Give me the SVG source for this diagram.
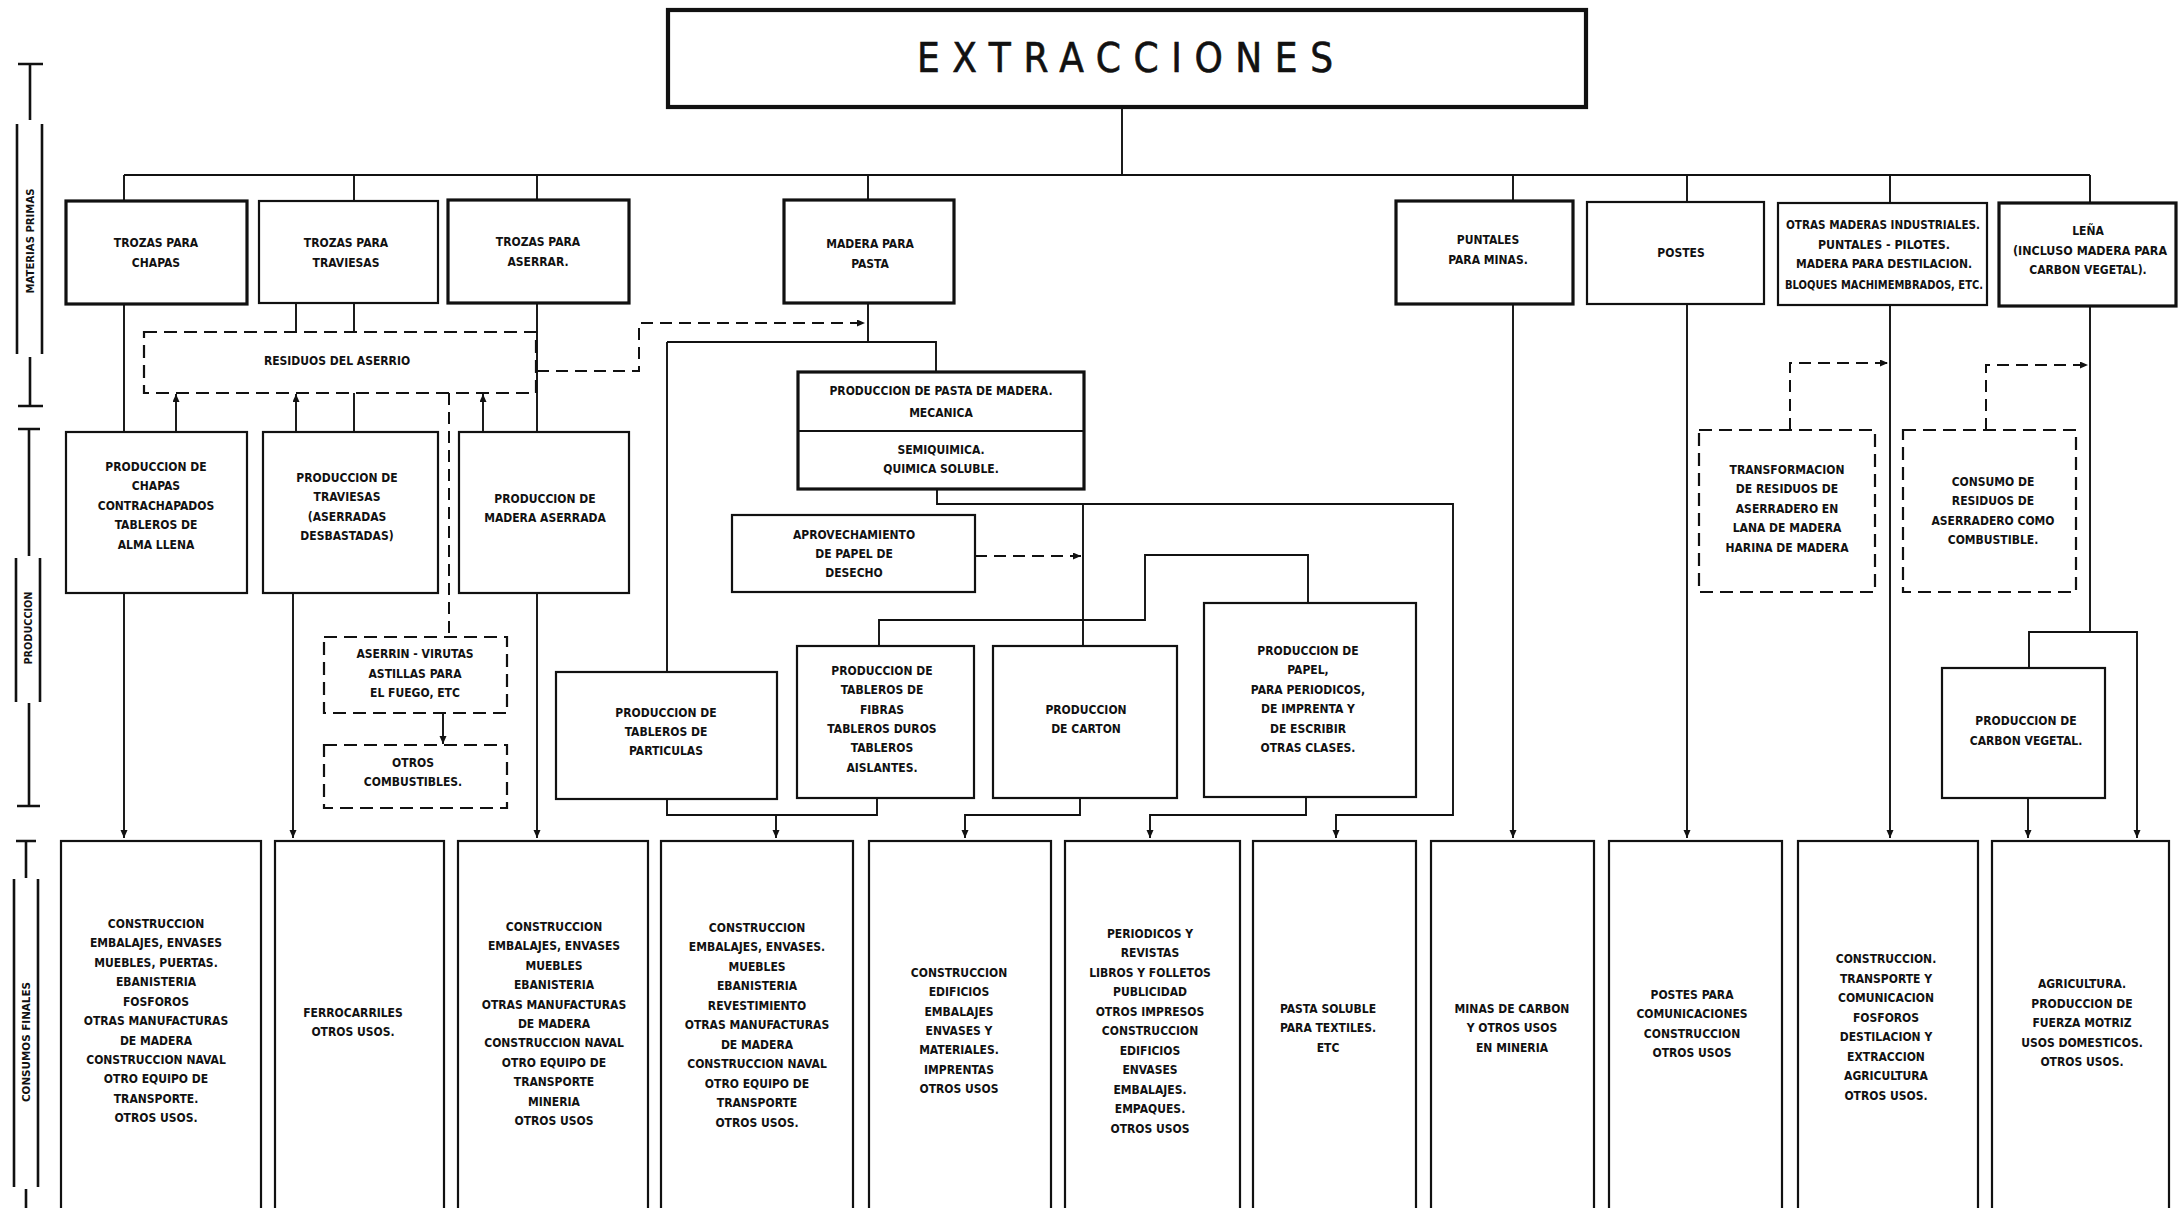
<svg xmlns="http://www.w3.org/2000/svg" width="2178" height="1208" viewBox="0 0 2178 1208">
  <style>
    .bg { fill: #ffffff; }
    .box { fill: #ffffff; stroke: #111111; stroke-width: 2.2; }
    .heavy { fill: #ffffff; stroke: #111111; stroke-width: 3.2; }
    .dbox { fill: #ffffff; stroke: #111111; stroke-width: 2.2; stroke-dasharray: 13 7; }
    .ln { fill: none; stroke: #111111; stroke-width: 1.9; }
    .dl { fill: none; stroke: #111111; stroke-width: 2; stroke-dasharray: 12 7; }
    .bar { fill: none; stroke: #111111; stroke-width: 2.6; }
    .t { font-family: "Liberation Sans Narrow", "DejaVu Sans Condensed", "Liberation Sans", sans-serif; font-weight: bold; font-size: 12px; text-anchor: middle; fill: #111111; }
    .title { font-family: "Liberation Sans Narrow", "DejaVu Sans Condensed", "Liberation Sans", sans-serif; font-weight: normal; font-size: 40px; fill: #111111; stroke: #111111; stroke-width: 0.6; }
    .side { font-family: "Liberation Sans Narrow", "DejaVu Sans Condensed", "Liberation Sans", sans-serif; font-weight: bold; font-size: 11px; text-anchor: middle; fill: #111111; }
  </style>
  <defs>
    <marker id="arr" markerUnits="userSpaceOnUse" markerWidth="9" markerHeight="8" refX="8" refY="3.5" orient="auto">
      <path d="M0,0 L8,3.5 L0,7 z" fill="#111111"/>
    </marker>
  </defs>

  <rect class="bg" x="0" y="0" width="2178" height="1208"/>

  <!-- stage scale bars on the left -->
  <g id="scale-materias">
    <path class="bar" d="M18,64 H43 M30,64 V120 M17,124 V354 M42,124 V354 M30,357 V406 M18,406 H43"/>
    <text class="side" transform="translate(33.5,241) rotate(-90)" textLength="105" lengthAdjust="spacingAndGlyphs">MATERIAS PRIMAS</text>
  </g>
  <g id="scale-produccion">
    <path class="bar" d="M18,429 H40 M29,429 V556 M16,558 V702 M40,558 V702 M29,703 V806 M17,806 H40"/>
    <text class="side" transform="translate(32,628) rotate(-90)" textLength="73" lengthAdjust="spacingAndGlyphs">PRODUCCION</text>
  </g>
  <g id="scale-consumos">
    <path class="bar" d="M16,841 H36 M26,841 V878 M14,879 V1187 M38,879 V1187 M26,1189 V1208"/>
    <text class="side" transform="translate(30,1042) rotate(-90)" textLength="120" lengthAdjust="spacingAndGlyphs">CONSUMOS FINALES</text>
  </g>

  <!-- connectors -->
  <g id="connectors">
    <!-- tree from the top -->
    <path class="ln" d="M1122,107 V175 M124,175 H2090 M124,175 V201 M354,175 V201 M537,175 V200 M868,175 V200 M1513,175 V201 M1687,175 V202 M1890,175 V203 M2090,175 V203"/>
    <!-- sawn logs, sleepers, veneers -->
    <path class="ln" d="M124,304 V432 M296,303 V332 M354,303 V332 M354,393 V432 M537,303 V432"/>
    <path class="ln" d="M176,432 V394" marker-end="url(#arr)"/>
    <path class="ln" d="M296,432 V394" marker-end="url(#arr)"/>
    <path class="ln" d="M483,432 V394" marker-end="url(#arr)"/>
    <path class="ln" d="M124,593 V838" marker-end="url(#arr)"/>
    <path class="ln" d="M293,593 V838" marker-end="url(#arr)"/>
    <path class="ln" d="M537,593 V838" marker-end="url(#arr)"/>
    <path class="ln" d="M443,713 V744" marker-end="url(#arr)"/>
    <!-- pulpwood branch -->
    <path class="ln" d="M868,303 V342 M667,342 H936 V372 M667,342 V672"/>
    <path class="ln" d="M937,489 V504 H1453 V815 H1336 V838" marker-end="url(#arr)"/>
    <path class="ln" d="M1083,504 V646"/>
    <path class="ln" d="M879,646 V620 H1145 V555 H1308 V603"/>
    <path class="ln" d="M667,799 V815 H877 V798 M776,815 V838" marker-end="url(#arr)"/>
    <path class="ln" d="M1080,798 V815 H965 V838" marker-end="url(#arr)"/>
    <path class="ln" d="M1306,797 V815 H1150 V838" marker-end="url(#arr)"/>
    <!-- right-hand branches -->
    <path class="ln" d="M1513,304 V838" marker-end="url(#arr)"/>
    <path class="ln" d="M1687,304 V838" marker-end="url(#arr)"/>
    <path class="ln" d="M1890,305 V838" marker-end="url(#arr)"/>
    <path class="ln" d="M2090,306 V632 M2029,668 V632 H2137 V838" marker-end="url(#arr)"/>
    <path class="ln" d="M2028,798 V838" marker-end="url(#arr)"/>
    <!-- residue flows (dashed) -->
    <path class="dl" d="M537,371 H639 V323 H865" marker-end="url(#arr)"/>
    <path class="dl" d="M449,393 V637"/>
    <path class="dl" d="M975,556 H1081" marker-end="url(#arr)"/>
    <path class="dl" d="M1790,430 V363 H1888" marker-end="url(#arr)"/>
    <path class="dl" d="M1986,430 V365 H2088" marker-end="url(#arr)"/>
  </g>

  <!-- title -->
  <g id="extracciones">
    <rect x="668" y="10" width="918" height="97" fill="#fff" stroke="#111" stroke-width="4.2"/>
    <text class="title" x="917" y="72" textLength="416" lengthAdjust="spacing">EXTRACCIONES</text>
  </g>

  <!-- raw materials -->
  <g id="trozas-chapas">
    <rect class="heavy" x="66" y="201" width="181" height="103"/>
    <text class="t" x="156" y="247">TROZAS PARA</text>
    <text class="t" x="156" y="267">CHAPAS</text>
  </g>
  <g id="trozas-traviesas">
    <rect class="box" x="259" y="201" width="179" height="102"/>
    <text class="t" x="346" y="247">TROZAS PARA</text>
    <text class="t" x="346" y="267">TRAVIESAS</text>
  </g>
  <g id="trozas-aserrar">
    <rect class="heavy" x="448" y="200" width="181" height="103"/>
    <text class="t" x="538" y="246">TROZAS PARA</text>
    <text class="t" x="538" y="266">ASERRAR.</text>
  </g>
  <g id="madera-pasta">
    <rect class="heavy" x="784" y="200" width="170" height="103"/>
    <text class="t" x="870" y="248">MADERA PARA</text>
    <text class="t" x="870" y="268">PASTA</text>
  </g>
  <g id="puntales">
    <rect class="heavy" x="1396" y="201" width="177" height="103"/>
    <text class="t" x="1488" y="244">PUNTALES</text>
    <text class="t" x="1488" y="264">PARA MINAS.</text>
  </g>
  <g id="postes">
    <rect class="box" x="1587" y="202" width="177" height="102"/>
    <text class="t" x="1681" y="257">POSTES</text>
  </g>
  <g id="otras-maderas">
    <rect class="box" x="1778" y="203" width="209" height="102"/>
    <text class="t" x="1883" y="229" textLength="194" lengthAdjust="spacingAndGlyphs">OTRAS MADERAS INDUSTRIALES.</text>
    <text class="t" x="1884" y="249" textLength="132" lengthAdjust="spacingAndGlyphs">PUNTALES - PILOTES.</text>
    <text class="t" x="1884" y="268" textLength="176" lengthAdjust="spacingAndGlyphs">MADERA PARA DESTILACION.</text>
    <text class="t" x="1884" y="289" textLength="198" lengthAdjust="spacingAndGlyphs">BLOQUES MACHIMEMBRADOS, ETC.</text>
  </g>
  <g id="lena">
    <rect class="heavy" x="1999" y="203" width="177" height="103"/>
    <text class="t" x="2088" y="235">LEÑA</text>
    <text class="t" x="2090" y="255" textLength="154" lengthAdjust="spacingAndGlyphs">(INCLUSO MADERA PARA</text>
    <text class="t" x="2088" y="274">CARBON VEGETAL).</text>
  </g>

  <!-- production -->
  <g id="residuos-aserrio">
    <rect class="dbox" x="144" y="332" width="392" height="61"/>
    <text class="t" x="337" y="365">RESIDUOS DEL ASERRIO</text>
  </g>
  <g id="prod-chapas">
    <rect class="box" x="66" y="432" width="181" height="161"/>
    <text class="t" x="156" y="471">PRODUCCION DE</text>
    <text class="t" x="156" y="490">CHAPAS</text>
    <text class="t" x="156" y="510">CONTRACHAPADOS</text>
    <text class="t" x="156" y="529">TABLEROS DE</text>
    <text class="t" x="156" y="549">ALMA LLENA</text>
  </g>
  <g id="prod-traviesas">
    <rect class="box" x="263" y="432" width="175" height="161"/>
    <text class="t" x="347" y="482">PRODUCCION DE</text>
    <text class="t" x="347" y="501">TRAVIESAS</text>
    <text class="t" x="347" y="521">(ASERRADAS</text>
    <text class="t" x="347" y="540">DESBASTADAS)</text>
  </g>
  <g id="prod-aserrada">
    <rect class="box" x="459" y="432" width="170" height="161"/>
    <text class="t" x="545" y="503">PRODUCCION DE</text>
    <text class="t" x="545" y="522">MADERA ASERRADA</text>
  </g>
  <g id="aserrin">
    <rect class="dbox" x="324" y="637" width="183" height="76"/>
    <text class="t" x="415" y="658">ASERRIN - VIRUTAS</text>
    <text class="t" x="415" y="678">ASTILLAS PARA</text>
    <text class="t" x="415" y="697">EL FUEGO, ETC</text>
  </g>
  <g id="otros-combustibles">
    <rect class="dbox" x="324" y="745" width="183" height="63"/>
    <text class="t" x="413" y="767">OTROS</text>
    <text class="t" x="413" y="786">COMBUSTIBLES.</text>
  </g>
  <g id="prod-pasta">
    <rect class="heavy" x="798" y="372" width="286" height="117"/>
    <path class="ln" d="M798,431 H1084" stroke-width="2.4"/>
    <text class="t" x="941" y="395">PRODUCCION DE PASTA DE MADERA.</text>
    <text class="t" x="941" y="417">MECANICA</text>
    <text class="t" x="941" y="454">SEMIQUIMICA.</text>
    <text class="t" x="941" y="473">QUIMICA SOLUBLE.</text>
  </g>
  <g id="aprovechamiento">
    <rect class="box" x="732" y="515" width="243" height="77"/>
    <text class="t" x="854" y="539">APROVECHAMIENTO</text>
    <text class="t" x="854" y="558">DE PAPEL DE</text>
    <text class="t" x="854" y="577">DESECHO</text>
  </g>
  <g id="prod-particulas">
    <rect class="box" x="556" y="672" width="221" height="127"/>
    <text class="t" x="666" y="717">PRODUCCION DE</text>
    <text class="t" x="666" y="736">TABLEROS DE</text>
    <text class="t" x="666" y="755">PARTICULAS</text>
  </g>
  <g id="prod-fibras">
    <rect class="box" x="797" y="646" width="177" height="152"/>
    <text class="t" x="882" y="675">PRODUCCION DE</text>
    <text class="t" x="882" y="694">TABLEROS DE</text>
    <text class="t" x="882" y="714">FIBRAS</text>
    <text class="t" x="882" y="733">TABLEROS DUROS</text>
    <text class="t" x="882" y="752">TABLEROS</text>
    <text class="t" x="882" y="772">AISLANTES.</text>
  </g>
  <g id="prod-carton">
    <rect class="box" x="993" y="646" width="184" height="152"/>
    <text class="t" x="1086" y="714">PRODUCCION</text>
    <text class="t" x="1086" y="733">DE CARTON</text>
  </g>
  <g id="prod-papel">
    <rect class="box" x="1204" y="603" width="212" height="194"/>
    <text class="t" x="1308" y="655">PRODUCCION DE</text>
    <text class="t" x="1308" y="674">PAPEL,</text>
    <text class="t" x="1308" y="694">PARA PERIODICOS,</text>
    <text class="t" x="1308" y="713">DE IMPRENTA Y</text>
    <text class="t" x="1308" y="733">DE ESCRIBIR</text>
    <text class="t" x="1308" y="752">OTRAS CLASES.</text>
  </g>
  <g id="transformacion-residuos">
    <rect class="dbox" x="1699" y="430" width="176" height="162"/>
    <text class="t" x="1787" y="474">TRANSFORMACION</text>
    <text class="t" x="1787" y="493">DE RESIDUOS DE</text>
    <text class="t" x="1787" y="513">ASERRADERO EN</text>
    <text class="t" x="1787" y="532">LANA DE MADERA</text>
    <text class="t" x="1787" y="552">HARINA DE MADERA</text>
  </g>
  <g id="consumo-residuos">
    <rect class="dbox" x="1903" y="430" width="173" height="162"/>
    <text class="t" x="1993" y="486">CONSUMO DE</text>
    <text class="t" x="1993" y="505">RESIDUOS DE</text>
    <text class="t" x="1993" y="525">ASERRADERO COMO</text>
    <text class="t" x="1993" y="544">COMBUSTIBLE.</text>
  </g>
  <g id="prod-carbon">
    <rect class="box" x="1942" y="668" width="163" height="130"/>
    <text class="t" x="2026" y="725">PRODUCCION DE</text>
    <text class="t" x="2026" y="745">CARBON VEGETAL.</text>
  </g>

  <!-- final consumption columns -->
  <g id="consumo-chapas">
    <rect class="box" x="61" y="841" width="200" height="380"/>
    <text class="t" x="156" y="928">CONSTRUCCION</text>
    <text class="t" x="156" y="947">EMBALAJES, ENVASES</text>
    <text class="t" x="156" y="967">MUEBLES, PUERTAS.</text>
    <text class="t" x="156" y="986">EBANISTERIA</text>
    <text class="t" x="156" y="1006">FOSFOROS</text>
    <text class="t" x="156" y="1025">OTRAS MANUFACTURAS</text>
    <text class="t" x="156" y="1045">DE MADERA</text>
    <text class="t" x="156" y="1064">CONSTRUCCION NAVAL</text>
    <text class="t" x="156" y="1083">OTRO EQUIPO DE</text>
    <text class="t" x="156" y="1103">TRANSPORTE.</text>
    <text class="t" x="156" y="1122">OTROS USOS.</text>
  </g>
  <g id="consumo-traviesas">
    <rect class="box" x="275" y="841" width="169" height="380"/>
    <text class="t" x="353" y="1017">FERROCARRILES</text>
    <text class="t" x="353" y="1036">OTROS USOS.</text>
  </g>
  <g id="consumo-aserrada">
    <rect class="box" x="458" y="841" width="190" height="380"/>
    <text class="t" x="554" y="931">CONSTRUCCION</text>
    <text class="t" x="554" y="950">EMBALAJES, ENVASES</text>
    <text class="t" x="554" y="970">MUEBLES</text>
    <text class="t" x="554" y="989">EBANISTERIA</text>
    <text class="t" x="554" y="1009">OTRAS MANUFACTURAS</text>
    <text class="t" x="554" y="1028">DE MADERA</text>
    <text class="t" x="554" y="1047">CONSTRUCCION NAVAL</text>
    <text class="t" x="554" y="1067">OTRO EQUIPO DE</text>
    <text class="t" x="554" y="1086">TRANSPORTE</text>
    <text class="t" x="554" y="1106">MINERIA</text>
    <text class="t" x="554" y="1125">OTROS USOS</text>
  </g>
  <g id="consumo-tableros">
    <rect class="box" x="661" y="841" width="192" height="380"/>
    <text class="t" x="757" y="932">CONSTRUCCION</text>
    <text class="t" x="757" y="951">EMBALAJES, ENVASES.</text>
    <text class="t" x="757" y="971">MUEBLES</text>
    <text class="t" x="757" y="990">EBANISTERIA</text>
    <text class="t" x="757" y="1010">REVESTIMIENTO</text>
    <text class="t" x="757" y="1029">OTRAS MANUFACTURAS</text>
    <text class="t" x="757" y="1049">DE MADERA</text>
    <text class="t" x="757" y="1068">CONSTRUCCION NAVAL</text>
    <text class="t" x="757" y="1088">OTRO EQUIPO DE</text>
    <text class="t" x="757" y="1107">TRANSPORTE</text>
    <text class="t" x="757" y="1127">OTROS USOS.</text>
  </g>
  <g id="consumo-carton">
    <rect class="box" x="869" y="841" width="182" height="380"/>
    <text class="t" x="959" y="977">CONSTRUCCION</text>
    <text class="t" x="959" y="996">EDIFICIOS</text>
    <text class="t" x="959" y="1016">EMBALAJES</text>
    <text class="t" x="959" y="1035">ENVASES Y</text>
    <text class="t" x="959" y="1054">MATERIALES.</text>
    <text class="t" x="959" y="1074">IMPRENTAS</text>
    <text class="t" x="959" y="1093">OTROS USOS</text>
  </g>
  <g id="consumo-papel">
    <rect class="box" x="1065" y="841" width="175" height="380"/>
    <text class="t" x="1150" y="938">PERIODICOS Y</text>
    <text class="t" x="1150" y="957">REVISTAS</text>
    <text class="t" x="1150" y="977">LIBROS Y FOLLETOS</text>
    <text class="t" x="1150" y="996">PUBLICIDAD</text>
    <text class="t" x="1150" y="1016">OTROS IMPRESOS</text>
    <text class="t" x="1150" y="1035">CONSTRUCCION</text>
    <text class="t" x="1150" y="1055">EDIFICIOS</text>
    <text class="t" x="1150" y="1074">ENVASES</text>
    <text class="t" x="1150" y="1094">EMBALAJES.</text>
    <text class="t" x="1150" y="1113">EMPAQUES.</text>
    <text class="t" x="1150" y="1133">OTROS USOS</text>
  </g>
  <g id="consumo-pasta">
    <rect class="box" x="1253" y="841" width="163" height="380"/>
    <text class="t" x="1328" y="1013">PASTA SOLUBLE</text>
    <text class="t" x="1328" y="1032">PARA TEXTILES.</text>
    <text class="t" x="1328" y="1052">ETC</text>
  </g>
  <g id="consumo-puntales">
    <rect class="box" x="1431" y="841" width="163" height="380"/>
    <text class="t" x="1512" y="1013">MINAS DE CARBON</text>
    <text class="t" x="1512" y="1032">Y OTROS USOS</text>
    <text class="t" x="1512" y="1052">EN MINERIA</text>
  </g>
  <g id="consumo-postes">
    <rect class="box" x="1609" y="841" width="173" height="380"/>
    <text class="t" x="1692" y="999">POSTES PARA</text>
    <text class="t" x="1692" y="1018">COMUNICACIONES</text>
    <text class="t" x="1692" y="1038">CONSTRUCCION</text>
    <text class="t" x="1692" y="1057">OTROS USOS</text>
  </g>
  <g id="consumo-otras">
    <rect class="box" x="1798" y="841" width="180" height="380"/>
    <text class="t" x="1886" y="963">CONSTRUCCION.</text>
    <text class="t" x="1886" y="983">TRANSPORTE Y</text>
    <text class="t" x="1886" y="1002">COMUNICACION</text>
    <text class="t" x="1886" y="1022">FOSFOROS</text>
    <text class="t" x="1886" y="1041">DESTILACION Y</text>
    <text class="t" x="1886" y="1061">EXTRACCION</text>
    <text class="t" x="1886" y="1080">AGRICULTURA</text>
    <text class="t" x="1886" y="1100">OTROS USOS.</text>
  </g>
  <g id="consumo-lena">
    <rect class="box" x="1992" y="841" width="177" height="380"/>
    <text class="t" x="2082" y="988">AGRICULTURA.</text>
    <text class="t" x="2082" y="1008">PRODUCCION DE</text>
    <text class="t" x="2082" y="1027">FUERZA MOTRIZ</text>
    <text class="t" x="2082" y="1047">USOS DOMESTICOS.</text>
    <text class="t" x="2082" y="1066">OTROS USOS.</text>
  </g>
</svg>
